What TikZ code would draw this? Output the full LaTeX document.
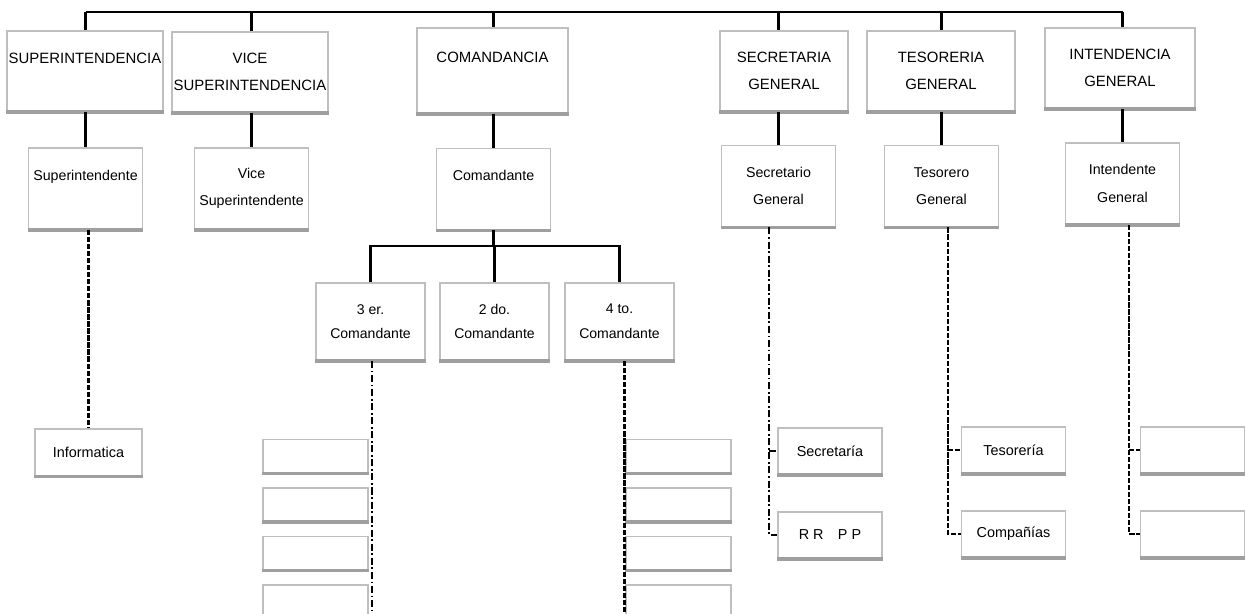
\documentclass[tikz,border=0pt]{standalone}
\usepackage{fontspec}
\setmainfont{Liberation Sans}

\begin{document}
\begin{tikzpicture}[
  caja/.style={draw=gray!50, line width=1.1pt, align=center, inner sep=1pt,
    append after command={(\tikzlastnode.south west) edge[draw=gray!75, line width=2pt] (\tikzlastnode.south east)}},
  alta/.style={caja, minimum width=#1, minimum height=1.6cm, font=\fontsize{8.5}{15}\selectfont},
  media/.style={caja, minimum width=2.28cm, minimum height=1.62cm, font=\fontsize{8.1}{15.5}\selectfont},
  baja/.style={caja, minimum width=2.18cm, minimum height=1.54cm, font=\fontsize{8}{14}\selectfont},
  cajita/.style={caja, minimum width=2.1cm, minimum height=0.66cm},
  oficina/.style={caja, minimum width=2.08cm, minimum height=0.93cm, font=\fontsize{8.2}{10}\selectfont},
  linea/.style={black, line width=1.2pt},
  punteada/.style={black, line width=1.5pt, dash pattern=on 3pt off 1pt},
  rayapunto/.style={black, line width=0.9pt, dash pattern=on 4pt off 1.5pt on 1pt off 1.5pt}
]
\useasboundingbox (0,0) rectangle (24.9,-12.28);
\clip (0,0) rectangle (24.9,-12.28);

\node[alta=3.12cm] (sup) at (1.70,-1.42) {SUPERINTENDENCIA\\\mbox{}};
\node[alta=3.04cm] (vic) at (5.0,-1.44) {VICE\\SUPERINTENDENCIA};
\node[alta=3.02cm, minimum height=1.7cm] (com) at (9.85,-1.41) {COMANDANCIA\\\mbox{}};
\node[alta=2.56cm] (sec) at (15.68,-1.42) {SECRETARIA\\GENERAL};
\node[alta=2.96cm] (tes) at (18.82,-1.42) {TESORERIA\\GENERAL};
\node[alta=3.0cm] (int) at (22.40,-1.36) {INTENDENCIA\\GENERAL};

\node[media] (supt) at (1.71,-3.77) {Superintendente\\\mbox{}};
\node[media] (vict) at (5.03,-3.77) {Vice\\Superintendente};
\node[media] (comt) at (9.87,-3.78) {Comandante\\\mbox{}};
\node[media] (sect) at (15.57,-3.72) {Secretario\\General};
\node[media] (test) at (18.83,-3.72) {Tesorero\\General};
\node[media] (intt) at (22.45,-3.67) {Intendente\\General};

\node[baja] (c3) at (7.41,-6.43) {3 er.\\Comandante};
\node[baja] (c2) at (9.89,-6.43) {2 do.\\Comandante};
\node[baja] (c4) at (12.39,-6.43) {4 to.\\Comandante};

\node[oficina, minimum width=2.14cm] (inf) at (1.77,-9.05) {Informatica};
\foreach \i/\y in {1/-9.12,2/-10.09,3/-11.06,4/-12.03}{
  \node[cajita] (iz\i) at (6.31,\y) {};
  \node[cajita] (de\i) at (13.57,\y) {};
}
\node[oficina] (secr) at (16.6,-9.02) {Secretaría};
\node[oficina] (rrpp) at (16.6,-10.7) {R R\quad P P};
\node[oficina] (teso) at (20.27,-9.0) {Tesorería};
\node[oficina] (comp) at (20.27,-10.68) {Compañías};
\node[oficina] (int1) at (23.85,-9.0) {};
\node[oficina] (int2) at (23.85,-10.68) {};

% lineas de mando
\coordinate (barra) at (0,-0.24);
\draw[linea, line width=1pt] (supt.north |- barra) -- (intt.north |- barra);
\foreach \a/\b in {sup/supt, vic/vict, com/comt, sec/sect, tes/test, int/intt}{
  \draw[linea] (\b.north |- barra) -- (\b.north |- \a.north);
  \draw[linea] (\b.north |- \a.south) -- (\b.north);
}
\coordinate (llave) at (0,-4.92);
\draw[linea] (comt.south) -- (comt.south |- llave);
\draw[linea] (c3.north) -- (c3.north |- llave) -- (c4.north |- llave) -- (c4.north);
\draw[linea] (c2.north) -- (c2.north |- llave);

% lineas de apoyo
\coordinate (pie) at (0,-12.4);
\draw[punteada] (inf.north |- supt.south) -- (inf.north);
\draw[rayapunto] ([xshift=1pt]c3.south) -- ([xshift=1pt]c3.south |- pie);
\draw[punteada] ([xshift=3pt]c4.south) -- ([xshift=3pt]c4.south |- pie);
\coordinate (rs) at ([xshift=-0.19cm]sect.south);
\draw[rayapunto] (rs) |- (rrpp.west);
\draw[rayapunto] (rs |- secr.west) -- (secr.west);
\coordinate (rt) at ([xshift=0.13cm]test.south);
\draw[punteada] (rt) |- (comp.west);
\draw[punteada] (rt |- teso.west) -- (teso.west);
\coordinate (ri) at ([xshift=0.13cm]intt.south);
\draw[punteada] (ri) |- (int2.west);
\draw[punteada] (ri |- int1.west) -- (int1.west);
\end{tikzpicture}
\end{document}
